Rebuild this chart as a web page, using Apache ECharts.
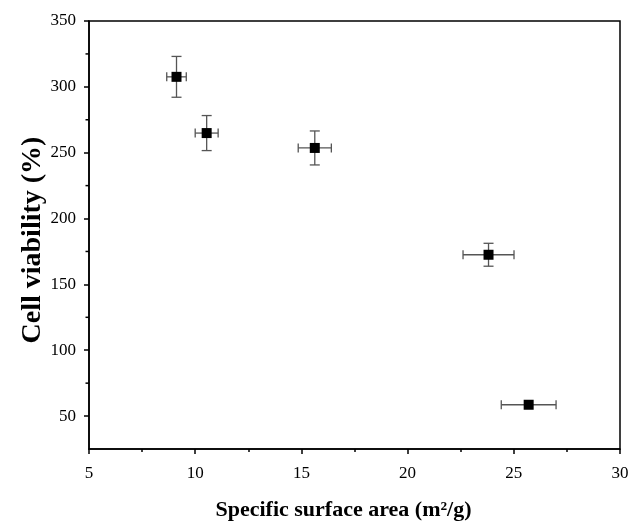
<!DOCTYPE html>
<html>
<head>
<meta charset="utf-8">
<script src="https://cdn.jsdelivr.net/npm/echarts@6/dist/echarts.min.js"></script>
<style>html,body{margin:0;padding:0;background:#fff}#c{width:628px;height:523px}</style>
</head>
<body>
<div id="c"></div>
<script>
// Data
const surfaceArea = [9.12, 10.54, 15.63, 23.81, 25.70];
const surfaceAreaErr = [0.46, 0.54, 0.78, 1.20, 1.29];
const viability = [307.6, 264.9, 253.6, 172.5, 58.6];
const viabilityErr = [15.5, 13.3, 12.9, 8.7, 0];
const yTickValues = [50, 100, 150, 200, 250, 300, 350];
const yMinorTickValues = [75, 125, 175, 225, 275, 325];
const xTitle = 'Specific surface area (m²/g)';
const yTitle = 'Cell viability (%)';

const font = '"Liberation Serif", "Times New Roman", serif';
const points = surfaceArea.map((x, i) => [x, viability[i]]);
const errData = surfaceArea.map((x, i) => [x, viability[i], surfaceAreaErr[i], viabilityErr[i]]);

function renderErr(params, api) {
  const x = api.value(0), y = api.value(1), ex = api.value(2), ey = api.value(3);
  const style = { stroke: '#555', lineWidth: 1.3 };
  const children = [];
  const l = api.coord([x - ex, y]), r = api.coord([x + ex, y]);
  const capH = 4.5;
  if (ex > 0) {
    children.push({ type: 'line', shape: { x1: l[0], y1: l[1], x2: r[0], y2: r[1] }, style });
    children.push({ type: 'line', shape: { x1: l[0], y1: l[1] - capH, x2: l[0], y2: l[1] + capH }, style });
    children.push({ type: 'line', shape: { x1: r[0], y1: r[1] - capH, x2: r[0], y2: r[1] + capH }, style });
  }
  if (ey > 0) {
    const t = api.coord([x, y + ey]), b = api.coord([x, y - ey]);
    const capW = 5;
    children.push({ type: 'line', shape: { x1: t[0], y1: t[1], x2: b[0], y2: b[1] }, style });
    children.push({ type: 'line', shape: { x1: t[0] - capW, y1: t[1], x2: t[0] + capW, y2: t[1] }, style });
    children.push({ type: 'line', shape: { x1: b[0] - capW, y1: b[1], x2: b[0] + capW, y2: b[1] }, style });
  }
  return { type: 'group', children };
}

const axisCommon = {
  axisLine: { show: true, onZero: false, lineStyle: { color: '#000', width: 1.5 } },
  axisTick: { show: true, inside: false, length: 5, lineStyle: { color: '#000', width: 1.5 } },
  minorTick: { show: true, splitNumber: 2, length: 3, lineStyle: { color: '#000', width: 1.5 } },
  splitLine: { show: false },
  axisLabel: { color: '#000', fontFamily: font, fontSize: 17 }
};

const chart = echarts.init(document.getElementById('c'), null, { renderer: 'canvas' });
chart.setOption({
  animation: false,
  backgroundColor: '#fff',
  grid: { left: 89, right: 8, top: 21, bottom: 74, outerBoundsMode: 'none', containLabel: false,
          show: true, borderColor: '#000', borderWidth: 1.5, backgroundColor: 'transparent' },
  xAxis: Object.assign({}, axisCommon, {
    type: 'value', min: 5, max: 30, interval: 5,
    name: xTitle, nameLocation: 'middle', nameGap: 50,
    nameTextStyle: { color: '#000', fontFamily: font, fontSize: 22, fontWeight: 'bold', padding: [0, 22, 0, 0] },
    axisLabel: Object.assign({}, axisCommon.axisLabel, { margin: 16 })
  }),
  yAxis: Object.assign({}, axisCommon, {
    type: 'value', min: 25, max: 350,
    axisLabel: Object.assign({}, axisCommon.axisLabel, { margin: 13, customValues: yTickValues }),
    axisTick: Object.assign({}, axisCommon.axisTick, { customValues: yTickValues }),
    minorTick: { show: false },
    name: yTitle, nameLocation: 'middle', nameGap: 42, nameRotate: 90, nameMoveOverlap: false,
    nameTextStyle: { color: '#000', fontFamily: font, fontSize: 28, fontWeight: 'bold', padding: [0, 10, 0, 0] }
  }),
  series: [
    { type: 'custom', renderItem: renderErr, data: errData, z: 2, silent: true },
    { type: 'scatter', data: points, symbol: 'rect', symbolSize: 10, itemStyle: { color: '#000', opacity: 1 }, z: 3 },
    // minor ticks on y axis
    { type: 'custom', silent: true, z: 1,
      data: yMinorTickValues.map(v => [5, v]),
      renderItem: (p, api) => {
        const c = api.coord([5, api.value(1)]);
        return { type: 'line', shape: { x1: c[0] - 3.5, y1: c[1], x2: c[0], y2: c[1] }, style: { stroke: '#000', lineWidth: 1.5 } };
      }
    }
  ]
});
</script>
</body>
</html>
